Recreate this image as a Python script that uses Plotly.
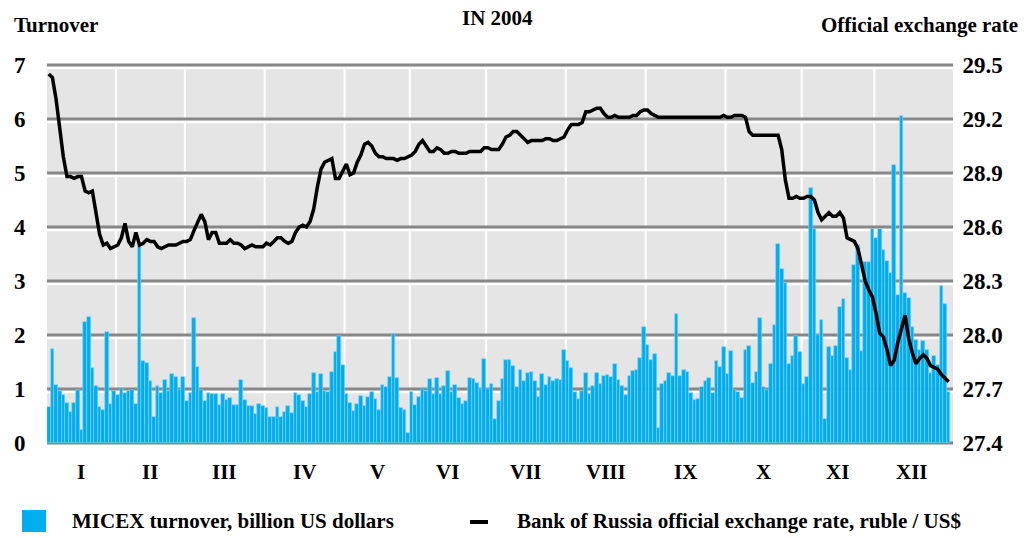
import plotly.graph_objects as go

# ---------------- data ----------------
months = ["I", "II", "III", "IV", "V", "VI", "VII", "VIII", "IX", "X", "XI", "XII"]
trading_days = [19, 19, 22, 22, 18, 21, 22, 22, 22, 21, 20, 21]

turnover_jan = [0.66, 1.75, 1.08, 0.97, 0.88, 0.75, 0.58, 0.75, 0.99, 0.25, 2.25, 2.34, 1.38, 1.06, 0.67, 0.62, 2.06, 0.73, 0.97]
turnover_feb = [0.89, 1.02, 0.93, 0.97, 0.98, 0.73, 3.70, 1.52, 1.49, 1.14, 0.49, 1.06, 0.92, 1.17, 0.96, 1.27, 1.23, 0.99, 1.23]
turnover_mar = [0.78, 0.93, 2.32, 1.40, 0.99, 0.78, 0.93, 0.90, 0.90, 0.71, 0.91, 0.79, 0.83, 0.70, 0.70, 1.17, 0.79, 0.68, 0.69, 0.54, 0.72, 0.69]
turnover_apr = [0.64, 0.49, 0.49, 0.66, 0.49, 0.58, 0.69, 0.56, 0.93, 0.88, 0.77, 0.66, 0.91, 1.30, 0.94, 1.27, 0.97, 0.94, 1.32, 1.69, 1.99, 1.45]
turnover_may = [0.90, 0.75, 0.60, 0.72, 0.87, 0.68, 0.86, 0.94, 0.81, 0.62, 1.07, 1.04, 1.22, 2.02, 1.21, 0.65, 0.62, 0.19]
turnover_jun = [0.95, 0.71, 0.85, 1.02, 0.96, 1.19, 0.90, 1.21, 0.90, 1.06, 1.34, 0.94, 1.07, 0.83, 0.73, 0.77, 1.21, 1.19, 1.12, 1.00, 1.56]
turnover_jul = [1.00, 1.10, 0.44, 0.77, 1.19, 1.54, 1.54, 1.42, 1.03, 1.36, 1.14, 1.30, 1.31, 1.15, 0.85, 1.28, 1.08, 1.22, 1.14, 1.19, 1.17, 1.72]
turnover_aug = [1.52, 1.38, 0.95, 0.81, 0.97, 1.30, 0.90, 1.06, 1.29, 1.10, 1.25, 1.26, 1.22, 1.47, 1.17, 1.06, 0.89, 1.25, 1.34, 1.36, 1.58, 2.14]
turnover_sep = [1.81, 1.53, 1.64, 0.28, 1.10, 1.15, 1.30, 1.25, 2.38, 1.25, 1.36, 1.31, 0.92, 0.79, 0.81, 1.04, 1.14, 1.20, 0.93, 1.51, 1.41, 1.78]
turnover_oct = [1.28, 1.70, 0.98, 0.95, 0.83, 1.72, 1.79, 1.11, 1.31, 2.32, 1.04, 0.98, 1.47, 2.19, 3.68, 3.23, 2.97, 1.46, 1.61, 1.98, 1.69]
turnover_nov = [1.09, 1.22, 4.72, 3.96, 2.00, 2.28, 0.44, 1.78, 1.62, 1.80, 2.52, 2.67, 1.58, 1.36, 3.30, 3.66, 1.70, 3.35, 3.35, 3.96]
turnover_dec = [3.80, 3.96, 3.57, 3.37, 3.14, 5.15, 2.75, 6.06, 2.77, 2.69, 2.14, 1.90, 1.73, 1.88, 1.72, 1.29, 1.62, 1.44, 2.90, 2.58, 0.95]

rate_jan = [29.45, 29.43, 29.31, 29.15, 28.99, 28.88, 28.88, 28.87, 28.88, 28.88, 28.80, 28.79, 28.80, 28.68, 28.56, 28.50, 28.51, 28.48, 28.49]
rate_feb = [28.50, 28.54, 28.62, 28.52, 28.49, 28.57, 28.50, 28.51, 28.53, 28.52, 28.52, 28.49, 28.48, 28.49, 28.50, 28.50, 28.50, 28.51, 28.52]
rate_mar = [28.52, 28.53, 28.58, 28.62, 28.67, 28.63, 28.53, 28.57, 28.57, 28.51, 28.51, 28.51, 28.53, 28.51, 28.51, 28.50, 28.48, 28.49, 28.50, 28.49, 28.49, 28.49]
rate_apr = [28.51, 28.50, 28.52, 28.54, 28.54, 28.52, 28.51, 28.52, 28.57, 28.60, 28.61, 28.60, 28.63, 28.70, 28.82, 28.92, 28.96, 28.97, 28.98, 28.87, 28.87, 28.91]
rate_may = [28.95, 28.89, 28.90, 28.96, 29.00, 29.06, 29.07, 29.05, 29.01, 28.99, 28.99, 28.98, 28.98, 28.98, 28.97, 28.98, 28.98, 28.99]
rate_jun = [29.00, 29.02, 29.06, 29.08, 29.05, 29.02, 29.02, 29.04, 29.03, 29.01, 29.01, 29.02, 29.02, 29.01, 29.01, 29.01, 29.02, 29.02, 29.02, 29.02, 29.04]
rate_jul = [29.04, 29.03, 29.03, 29.03, 29.06, 29.10, 29.11, 29.13, 29.13, 29.11, 29.09, 29.07, 29.08, 29.08, 29.08, 29.08, 29.09, 29.09, 29.08, 29.08, 29.09, 29.10]
rate_aug = [29.14, 29.17, 29.17, 29.17, 29.18, 29.24, 29.24, 29.25, 29.26, 29.26, 29.23, 29.21, 29.21, 29.22, 29.21, 29.21, 29.21, 29.21, 29.22, 29.22, 29.24, 29.25]
rate_sep = [29.25, 29.23, 29.22, 29.21, 29.21, 29.21, 29.21, 29.21, 29.21, 29.21, 29.21, 29.21, 29.21, 29.21, 29.21, 29.21, 29.21, 29.21, 29.21, 29.21, 29.21, 29.22]
rate_oct = [29.21, 29.21, 29.22, 29.22, 29.22, 29.21, 29.13, 29.11, 29.11, 29.11, 29.11, 29.11, 29.11, 29.11, 29.11, 29.03, 28.86, 28.76, 28.76, 28.77, 28.76]
rate_nov = [28.76, 28.77, 28.77, 28.75, 28.68, 28.64, 28.66, 28.68, 28.66, 28.66, 28.68, 28.65, 28.54, 28.53, 28.52, 28.48, 28.38, 28.30, 28.25, 28.21]
rate_dec = [28.12, 28.01, 27.99, 27.92, 27.83, 27.86, 27.96, 28.03, 28.11, 27.98, 27.90, 27.84, 27.87, 27.89, 27.87, 27.83, 27.82, 27.81, 27.78, 27.76, 27.74]

left_ticks = [0, 1, 2, 3, 4, 5, 6, 7]
right_ticks = [27.4, 27.7, 28.0, 28.3, 28.6, 28.9, 29.2, 29.5]

turnover = (turnover_jan + turnover_feb + turnover_mar + turnover_apr + turnover_may + turnover_jun +
            turnover_jul + turnover_aug + turnover_sep + turnover_oct + turnover_nov + turnover_dec)
rate = (rate_jan + rate_feb + rate_mar + rate_apr + rate_may + rate_jun +
        rate_jul + rate_aug + rate_sep + rate_oct + rate_nov + rate_dec)

# ---------------- figure ----------------
W, H = 1026, 538
L, R, T, B = 47, 953, 65, 443
FONT = "Liberation Serif"


def px(p):
    return (p - L) / (R - L)


def py(p):
    return (B - p) / (B - T)


n = len(turnover)
xs = list(range(n))

fig = go.Figure()
fig.add_trace(go.Bar(
    x=xs, y=turnover, yaxis="y",
    marker=dict(color="#00aeef", line=dict(color="#86d4f3", width=0.6)),
    showlegend=False, name="MICEX turnover, billion US dollars",
))
fig.add_trace(go.Scatter(
    x=xs, y=rate, yaxis="y2", mode="lines",
    line=dict(color="black", width=3.5, shape="linear"),
    showlegend=False, name="Bank of Russia official exchange rate, ruble / US$",
))

shapes = []
# month boundaries (white vertical lines)
cum = 0
for d in trading_days[:-1]:
    cum += d
    shapes.append(dict(type="line", xref="x", yref="paper", x0=cum - 0.5, x1=cum - 0.5,
                       y0=0, y1=1, line=dict(color="white", width=2), layer="below"))
# horizontal double gridlines
x_lo, x_hi = -0.5, n + 0.2
for k in left_ticks:
    yk = k / 7
    if k > 0:
        shapes.append(dict(type="line", xref="x", yref="paper", x0=x_lo, x1=x_hi,
                           y0=yk - 2.8 / (B - T), y1=yk - 2.8 / (B - T),
                           line=dict(color="white", width=2.8), layer="below"))
    shapes.append(dict(type="line", xref="x", yref="paper", x0=x_lo, x1=x_hi,
                       y0=yk, y1=yk, line=dict(color="#878787", width=2.8), layer="below"))

# legend swatches
shapes.append(dict(type="rect", xref="paper", yref="paper", x0=px(22), x1=px(46),
                   y0=py(532), y1=py(510), fillcolor="#00aeef", line=dict(width=0)))
shapes.append(dict(type="line", xref="paper", yref="paper", x0=px(470), x1=px(488),
                   y0=py(522), y1=py(522), line=dict(color="black", width=4)))

annotations = []
tf = dict(family=FONT, size=21, color="black", weight="bold")
annotations.append(dict(text="Turnover", xref="paper", yref="paper", x=px(12), y=py(25),
                        xanchor="left", yanchor="middle", showarrow=False, font=tf))
annotations.append(dict(text="IN 2004", xref="paper", yref="paper", x=px(497), y=py(18),
                        xanchor="center", yanchor="middle", showarrow=False, font=tf))
annotations.append(dict(text="Official exchange rate", xref="paper", yref="paper", x=px(1020), y=py(25),
                        xanchor="right", yanchor="middle", showarrow=False, font=tf))
annotations.append(dict(text="MICEX turnover, billion US dollars", xref="paper", yref="paper",
                        x=px(70), y=py(521), xanchor="left", yanchor="middle", showarrow=False, font=tf))
annotations.append(dict(text="Bank of Russia official exchange rate, ruble / US$", xref="paper", yref="paper",
                        x=px(515), y=py(521), xanchor="left", yanchor="middle", showarrow=False, font=tf))
start = 0
for m, d in zip(months, trading_days):
    annotations.append(dict(text=m, xref="x", yref="paper", x=start + (d - 1) / 2, y=py(472),
                            xanchor="center", yanchor="middle", showarrow=False, font=tf))
    start += d

tickfont = dict(family=FONT, size=23, color="black", weight="bold")
fig.update_layout(
    width=W, height=H,
    margin=dict(l=L, r=W - R, t=T, b=H - B, pad=0),
    paper_bgcolor="white", plot_bgcolor="#e5e5e5",
    bargap=0.0,
    xaxis=dict(range=[x_lo, x_hi], showgrid=False, zeroline=False, showticklabels=False,
               ticks="", showline=False),
    yaxis=dict(range=[0, 7], tickvals=left_ticks, ticktext=[str(v) for v in left_ticks],
               showgrid=False, zeroline=False, ticks="outside", ticklen=0,
               ticklabelstandoff=16, tickfont=tickfont, showline=False),
    yaxis2=dict(range=[27.4, 29.5], overlaying="y", side="right", tickvals=right_ticks,
                ticktext=[f"{v:.1f}" for v in right_ticks], showgrid=False, zeroline=False,
                ticks="outside", ticklen=0, ticklabelstandoff=4, tickfont=tickfont, showline=False),
    shapes=shapes, annotations=annotations,
    showlegend=False,
)

fig.write_html("out.html", config={"displayModeBar": False},
               post_script="document.body.style.margin='0px';document.body.style.overflow='hidden';")
